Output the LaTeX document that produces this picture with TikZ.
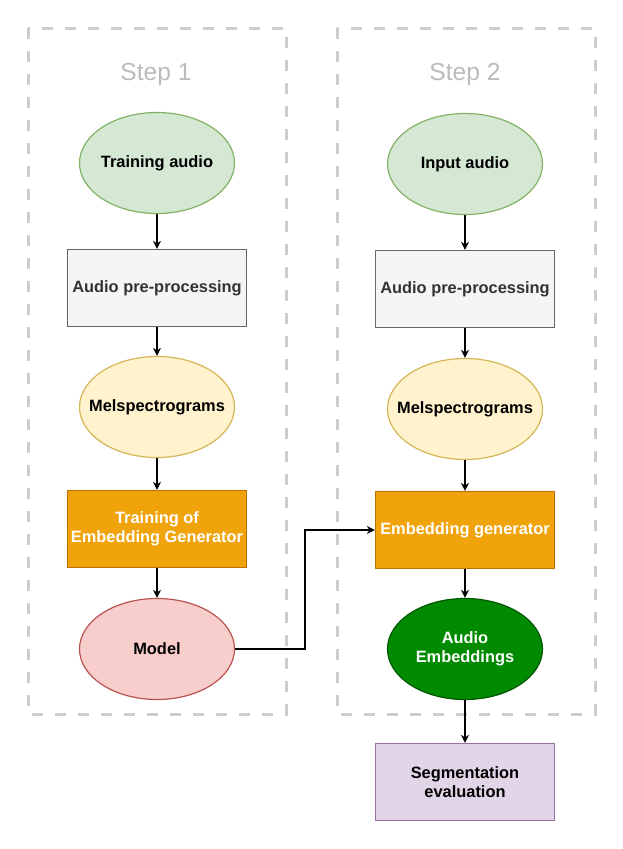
\documentclass[tikz,border=0pt]{standalone}
\usepackage{fontspec}
\setmainfont{Liberation Sans}
\usepackage{xcolor}
\usepackage{tikz}
\usetikzlibrary{arrows.meta,positioning,shapes.geometric}
\definecolor{frame}{RGB}{204,204,204}
\definecolor{steptext}{RGB}{187,187,187}
\definecolor{inbg}{RGB}{213,232,212}
\definecolor{indraw}{RGB}{130,179,102}
\definecolor{prebg}{RGB}{245,245,245}
\definecolor{predraw}{RGB}{102,102,102}
\definecolor{pretext}{RGB}{51,51,51}
\definecolor{melbg}{RGB}{255,242,204}
\definecolor{meldraw}{RGB}{214,182,86}
\definecolor{embbg}{RGB}{240,163,10}
\definecolor{embdraw}{RGB}{189,112,0}
\definecolor{modelbg}{RGB}{248,206,204}
\definecolor{modeldraw}{RGB}{184,84,80}
\definecolor{outbg}{RGB}{0,138,0}
\definecolor{outdraw}{RGB}{0,87,0}
\definecolor{evalbg}{RGB}{225,213,231}
\definecolor{evaldraw}{RGB}{150,115,166}
\tikzset{
  >={Stealth[length=8pt,width=8pt,inset=2.5pt]},
  x=1pt, y=-1pt,
  font=\fontsize{16.4}{19.5}\selectfont\bfseries,
  oval/.style={ellipse, line width=1.2pt, align=center, inner xsep=-25pt,
    inner ysep=0pt, minimum width=155pt, minimum height=101pt},
  rect/.style={rectangle, line width=1.2pt, align=center, inner sep=0pt,
    minimum width=179pt, minimum height=77pt},
  inoval/.style={oval, draw=indraw, fill=inbg, text=black},
  preblock/.style={rect, draw=predraw, fill=prebg, text=pretext},
  meloval/.style={oval, draw=meldraw, fill=melbg, text=black},
  embblock/.style={rect, draw=embdraw, fill=embbg, text=white},
  modeloval/.style={oval, draw=modeldraw, fill=modelbg, text=black},
  outoval/.style={oval, draw=outdraw, fill=outbg, text=white},
  evalblock/.style={rect, draw=evaldraw, fill=evalbg, text=black},
  flow/.style={->, line width=1.4pt, black},
  stepframe/.style={draw=frame, line width=3pt, dash pattern=on 11pt off 12pt},
  steplbl/.style={font=\fontsize{24.6}{29}\selectfont, text=steptext},
}

\begin{document}
\begin{tikzpicture}
\useasboundingbox (0,0) rectangle (623,849);

% ---------- frames ----------
\draw[stepframe] (28,28) rectangle (286,714);
\draw[stepframe] (337,28) rectangle (595,714);
\node[steplbl] (S1) at (156,74) {Step 1};
\node[steplbl] (S2) at (465,74) {Step 2};

% ---------- step 1 ----------
\node[inoval]    (train) at (157,163) {Training audio};
\node[preblock]  (pre1)  at (157,288) {Audio pre-processing};
\node[meloval]   (mel1)  at (157,407) {Melspectrograms};
\node[embblock]  (temb)  at (157,529) {Training of\\Embedding Generator};
\node[modeloval] (model) at (157,649) {Model};

% ---------- step 2 ----------
\node[inoval]    (input) at (465,164) {Input audio};
\node[preblock]  (pre2)  at (465,289) {Audio pre-processing};
\node[meloval]   (mel2)  at (465,409) {Melspectrograms};
\node[embblock]  (gen)   at (465,530) {Embedding generator};
\node[outoval]   (emb)   at (465,649) {Audio\\Embeddings};
\node[evalblock] (seg)   at (465,782) {Segmentation\\evaluation};

% ---------- arrows ----------
\foreach \a/\b in {train/pre1, pre1/mel1, mel1/temb, temb/model,
                   input/pre2, pre2/mel2, mel2/gen, gen/emb, emb/seg}{
  \draw[flow] (\a) -- (\b);}

% model feeds the generator
\draw[flow] (model.east) -| ++(70,0) |- (gen.west);

\end{tikzpicture}
\end{document}
